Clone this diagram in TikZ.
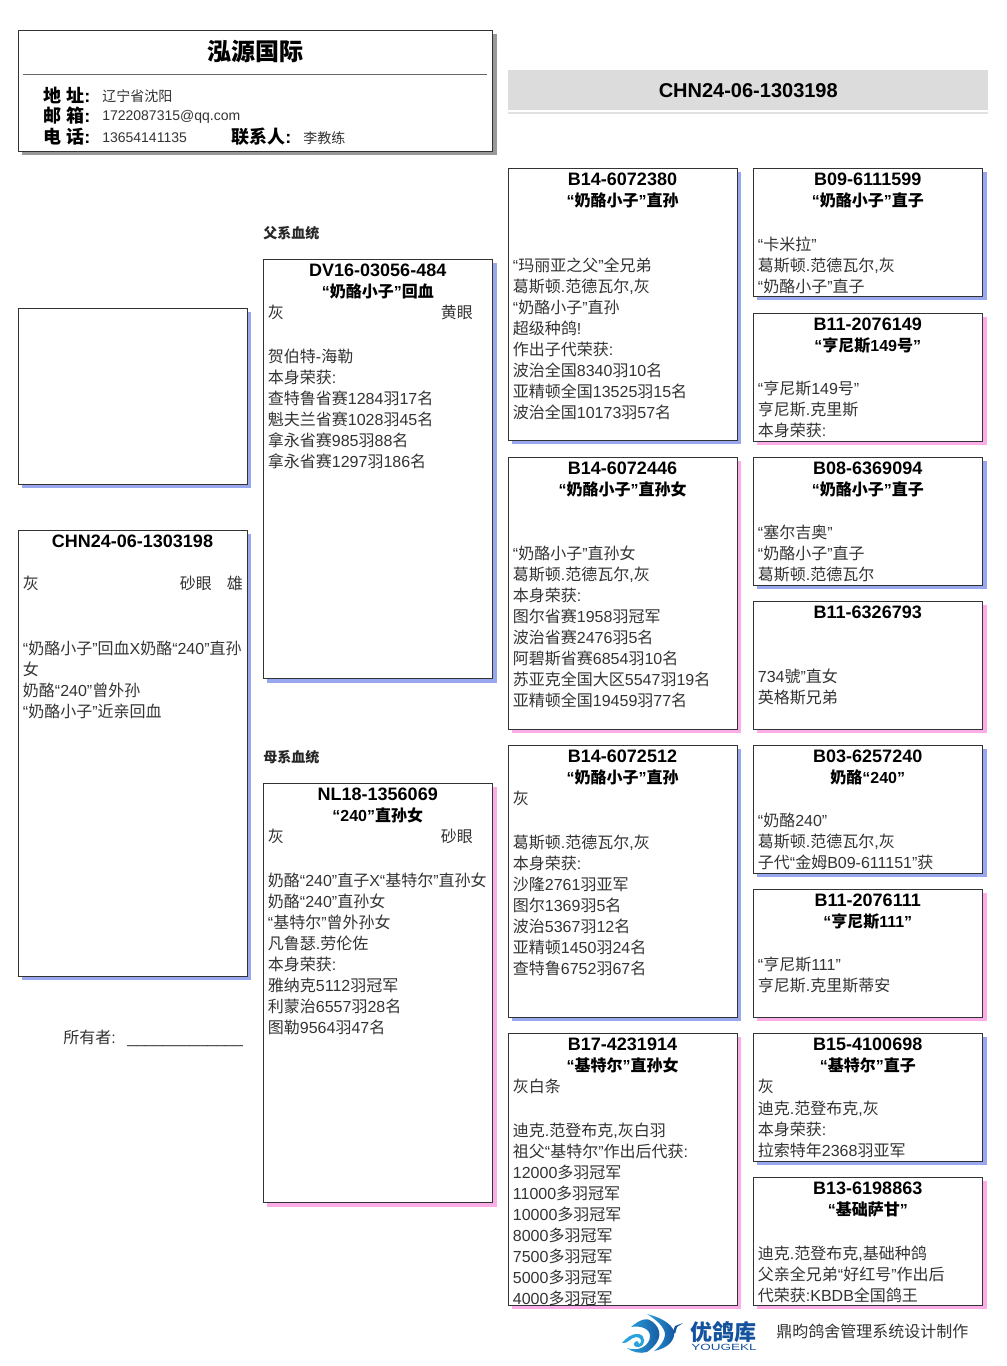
\documentclass[tikz,border=0pt]{standalone}
\usepackage{fontspec}
\usepackage{xcolor}
\usepackage{tikz}
\usetikzlibrary{shadows, calc}
\setmainfont{Liberation Sans}
\newfontfamily\cjkfam{Noto Sans CJK SC}
% han characters go to the cjk family, the rest stays in the main font
\XeTeXinterchartokenstate=1
\newXeTeXintercharclass\hanclass
\count255="4E00
\loop\ifnum\count255<"A000
  \XeTeXcharclass\count255=\hanclass
  \advance\count255 by 1
\repeat
\XeTeXinterchartoks 0 \hanclass={\cjkfam}
\XeTeXinterchartoks 4095 \hanclass={\cjkfam}
\XeTeXinterchartoks \hanclass 0={\rmfamily}
\XeTeXinterchartoks \hanclass 4095={\rmfamily}
\definecolor{sirefill}{HTML}{99A8EE}
\definecolor{damfill}{HTML}{FBADE8}
\definecolor{greyfill}{HTML}{999999}
\definecolor{bandfill}{HTML}{DCDCDC}
\definecolor{rimdraw}{HTML}{333333}
\definecolor{bodytext}{HTML}{333333}
\definecolor{logoblue}{HTML}{2BA3DC}
\definecolor{logodark}{HTML}{14529E}
\newcommand{\subline}[1]{{\fontsize{12}{15.75}\selectfont #1}}
\tikzset{
  blk/.style={rectangle, draw=rimdraw, fill=white, line width=0.7pt, inner sep=0pt, outer sep=0pt, anchor=north west},
  sire/.style={blk, general shadow={fill=sirefill, draw=none, shadow xshift=3pt, shadow yshift=-3pt}},
  dam/.style={blk, general shadow={fill=damfill, draw=none, shadow xshift=3pt, shadow yshift=-3pt}},
  card/.style={minimum width=229*0.75pt, minimum height=272*0.75pt},
  half/.style={minimum width=229.5*0.75pt, minimum height=128.3*0.75pt},
  parent/.style={minimum width=229.5*0.75pt, minimum height=419.5*0.75pt},
  idtxt/.style={anchor=north, align=center, text width=225*0.75pt, inner sep=0pt, yshift=-1.9pt, text=black, font=\fontsize{13.5}{15.75}\selectfont\bfseries, execute at begin node=\strut},
  bodytxt/.style={anchor=north west, align=left, text width=222*0.75pt, inner sep=0pt, xshift=3.5pt, yshift=-33.75pt, text=bodytext, font=\fontsize{12}{15.75}\selectfont, execute at begin node=\strut},
  sidetxt/.style={bodytxt, text width=34*0.75pt},
  lab/.style={anchor=west, inner sep=0pt, text=black, font=\fontsize{13.5}{16}\selectfont\bfseries},
  val/.style={anchor=west, inner sep=0pt, text=bodytext, font=\fontsize{10.5}{13}\selectfont},
  line/.style={anchor=west, inner sep=0pt, text=black!85, font=\fontsize{10.5}{13}\selectfont\bfseries},
  blade/.style={left color=logoblue, right color=logodark, draw=none},
}
\begin{document}
\begin{tikzpicture}[x=0.75pt, y=-0.75pt]
  \path[use as bounding box] (0,0) rectangle (1006,1366);

  % loft card
  \node[blk, general shadow={fill=greyfill, draw=none, shadow xshift=3pt, shadow yshift=-3pt}, minimum width=474.5*0.75pt, minimum height=121*0.75pt] (loft) at (18,30) {};
  \node[anchor=center, inner sep=0pt, font=\fontsize{18}{20}\selectfont\bfseries] (loftname) at (255.5,51) {泓源国际};
  \coordinate (ruleL) at (23,74.3);
  \coordinate (ruleR) at (487,74.3);
  \draw[black!60, line width=0.75pt] (ruleL) -- (ruleR);
  \node[lab] (addrlab) at (43,95) {地 址:};
  \node[val] (addr) at (102,96) {辽宁省沈阳};
  \node[lab] (maillab) at (43,116) {邮 箱:};
  \node[val] (mail) at (102,117) {1722087315@qq.com};
  \node[lab] (tellab) at (43,137) {电 话:};
  \node[val] (tel) at (102,138) {13654141135};
  \node[lab] (contactlab) at (231,137) {联系人:};
  \node[val] (contact) at (303,138) {李教练};

  % ring number band
  \node[anchor=north west, fill=bandfill, inner sep=0pt, minimum width=480*0.75pt, minimum height=40*0.75pt, font=\fontsize{15}{18}\selectfont\bfseries] (band) at (508,70) {CHN24-06-1303198};
  \node[anchor=north west, fill=bandfill!85, inner sep=0pt, minimum width=480*0.75pt, minimum height=2.2*0.75pt] (bandrule) at (508,111.8) {};

  % photo and bird
  \node[sire, minimum width=229*0.75pt, minimum height=176*0.75pt] (photo) at (18,308) {};
  \node[sire, minimum width=229*0.75pt, minimum height=446*0.75pt] (bird) at (18,530) {};
  \node[idtxt] (birdid) at (bird.north) {CHN24-06-1303198};
  \node[bodytxt] (birdbody) at (bird.north west) {灰\\~\\~\\[1.5pt]“奶酪小子”回血X奶酪“240”直孙\\女\\奶酪“240”曾外孙\\“奶酪小子”近亲回血};
  \node[sidetxt] (birdeye) at (175,530) {砂眼};
  \node[sidetxt] (birdsex) at (222,530) {雄};
  \node[anchor=west, inner sep=0pt, text=bodytext, font=\fontsize{12}{15}\selectfont] (owner) at (63,1038) {所有者:\hspace{8.75pt}\_\_\_\_\_\_\_\_\_\_\_\_\_};

  % parents
  \node[line] (sireline) at (263,233) {父系血统};
  \node[sire, parent] (s) at (263,259) {};
  \node[idtxt] (sid) at (s.north) {DV16-03056-484\\\subline{“奶酪小子”回血}};
  \node[bodytxt] (sbody) at (s.north west) {灰\\~\\[1.5pt]贺伯特-海勒\\本身荣获:\\查特鲁省赛1284羽17名\\魁夫兰省赛1028羽45名\\拿永省赛985羽88名\\拿永省赛1297羽186名};
  \node[sidetxt] (seye) at (436,259) {黄眼};

  \node[line] (damline) at (263,757) {母系血统};
  \node[dam, parent] (d) at (263,783) {};
  \node[idtxt] (did) at (d.north) {NL18-1356069\\\subline{“240”直孙女}};
  \node[bodytxt] (dbody) at (d.north west) {灰\\~\\[1.5pt]奶酪“240”直子X“基特尔”直孙女\\奶酪“240”直孙女\\“基特尔”曾外孙女\\凡鲁瑟.劳伦佐\\本身荣获:\\雅纳克5112羽冠军\\利蒙治6557羽28名\\图勒9564羽47名};
  \node[sidetxt] (deye) at (436,783) {砂眼};

  % grandparents
  \node[sire, card] (ss) at (508,168) {};
  \node[idtxt] (ssid) at (ss.north) {B14-6072380\\\subline{“奶酪小子”直孙}};
  \node[bodytxt] (ssbody) at (ss.north west) {~\\~\\[1.5pt]“玛丽亚之父”全兄弟\\葛斯顿.范德瓦尔,灰\\“奶酪小子”直孙\\超级种鸽!\\作出子代荣获:\\波治全国8340羽10名\\亚精顿全国13525羽15名\\波治全国10173羽57名};

  \node[dam, card] (sd) at (508,457) {};
  \node[idtxt] (sdid) at (sd.north) {B14-6072446\\\subline{“奶酪小子”直孙女}};
  \node[bodytxt] (sdbody) at (sd.north west) {~\\~\\[0.75pt]“奶酪小子”直孙女\\葛斯顿.范德瓦尔,灰\\本身荣获:\\图尔省赛1958羽冠军\\波治省赛2476羽5名\\阿碧斯省赛6854羽10名\\苏亚克全国大区5547羽19名\\亚精顿全国19459羽77名};

  \node[sire, card] (ds) at (508,745) {};
  \node[idtxt] (dsid) at (ds.north) {B14-6072512\\\subline{“奶酪小子”直孙}};
  \node[bodytxt] (dsbody) at (ds.north west) {灰\\~\\[1.5pt]葛斯顿.范德瓦尔,灰\\本身荣获:\\沙隆2761羽亚军\\图尔1369羽5名\\波治5367羽12名\\亚精顿1450羽24名\\查特鲁6752羽67名};

  \node[dam, card] (dd) at (508,1033) {};
  \node[idtxt] (ddid) at (dd.north) {B17-4231914\\\subline{“基特尔”直孙女}};
  \node[bodytxt] (ddbody) at (dd.north west) {灰白条\\~\\[1.5pt]迪克.范登布克,灰白羽\\祖父“基特尔”作出后代获:\\12000多羽冠军\\11000多羽冠军\\10000多羽冠军\\8000多羽冠军\\7500多羽冠军\\5000多羽冠军\\4000多羽冠军};

  % great grandparents
  \node[sire, half] (sss) at (753,168) {};
  \node[idtxt] (sssid) at (sss.north) {B09-6111599\\\subline{“奶酪小子”直子}};
  \node[bodytxt] (sssbody) at (sss.north west) {~\\[1.5pt]“卡米拉”\\葛斯顿.范德瓦尔,灰\\“奶酪小子”直子};

  \node[dam, half] (ssd) at (753,313) {};
  \node[idtxt] (ssdid) at (ssd.north) {B11-2076149\\\subline{“亨尼斯149号”}};
  \node[bodytxt] (ssdbody) at (ssd.north west) {~\\[0.75pt]“亨尼斯149号”\\亨尼斯.克里斯\\本身荣获:};

  \node[sire, half] (sds) at (753,457) {};
  \node[idtxt] (sdsid) at (sds.north) {B08-6369094\\\subline{“奶酪小子”直子}};
  \node[bodytxt] (sdsbody) at (sds.north west) {~\\[0.75pt]“塞尔吉奥”\\“奶酪小子”直子\\葛斯顿.范德瓦尔};

  \node[dam, half] (sdd) at (753,601) {};
  \node[idtxt] (sddid) at (sdd.north) {B11-6326793};
  \node[bodytxt] (sddbody) at (sdd.north west) {~\\[0.75pt]734號”直女\\英格斯兄弟};

  \node[sire, half] (dss) at (753,745) {};
  \node[idtxt] (dssid) at (dss.north) {B03-6257240\\\subline{奶酪“240”}};
  \node[bodytxt] (dssbody) at (dss.north west) {~\\[0.75pt]“奶酪240”\\葛斯顿.范德瓦尔,灰\\子代“金姆B09-611151”获};

  \node[dam, half] (dsd) at (753,889) {};
  \node[idtxt] (dsdid) at (dsd.north) {B11-2076111\\\subline{“亨尼斯111”}};
  \node[bodytxt] (dsdbody) at (dsd.north west) {~\\[0.75pt]“亨尼斯111”\\亨尼斯.克里斯蒂安};

  \node[sire, half] (dds) at (753,1033) {};
  \node[idtxt] (ddsid) at (dds.north) {B15-4100698\\\subline{“基特尔”直子}};
  \node[bodytxt] (ddsbody) at (dds.north west) {灰\\[0.75pt]迪克.范登布克,灰\\本身荣获:\\拉索特年2368羽亚军};

  \node[dam, half] (ddd) at (753,1177) {};
  \node[idtxt] (dddid) at (ddd.north) {B13-6198863\\\subline{“基础萨甘”}};
  \node[bodytxt] (dddbody) at (ddd.north west) {~\\[1.5pt]迪克.范登布克,基础种鸽\\父亲全兄弟“好红号”作出后\\代荣获:KBDB全国鸽王};

  % logo
  \shade[blade] (647,1314) .. controls (663,1318) and (676,1326) .. (674,1336) .. controls (672,1344) and (664,1349) .. (654,1351) .. controls (662,1345) and (667,1337) .. (664,1330) .. controls (662,1325) and (655,1319) .. (647,1314) -- cycle;
  \shade[blade] (631,1327) .. controls (640,1319) and (648,1317) .. (653,1322) .. controls (661,1329) and (664,1340) .. (647,1352) .. controls (640,1354) and (632,1352) .. (627,1348) .. controls (638,1352) and (650,1346) .. (650,1336) .. controls (650,1329) and (641,1325) .. (631,1327) -- cycle;
  \fill[logoblue] (622,1343) .. controls (626,1338) and (632,1333) .. (639,1334) .. controls (646,1336) and (646,1345) .. (639,1347) .. controls (635,1348) and (632,1344) .. (635,1342) .. controls (637,1340) and (640,1342) .. (639,1344) .. controls (643,1342) and (641,1337) .. (636,1337) .. controls (630,1338) and (628,1344) .. (622,1343) -- cycle;
  \fill[logodark] (673,1331) -- (675,1326) -- (683,1323) -- (677,1327) -- (675,1334) -- cycle;
  \node[anchor=west, inner sep=0pt, text=logodark, font=\fontsize{16.5}{18}\selectfont\bfseries] (logoname) at (690,1332.5) {优鸽库};
  \node[anchor=west, inner sep=0pt, text=logodark, font=\fontsize{6.75}{8}\selectfont] (logoen) at (691,1347) {\scalebox{1.5}[1]{YOUGEKL}};
  \node[anchor=west, inner sep=0pt, text=bodytext, font=\fontsize{12}{15}\selectfont] (maker) at (776,1331) {鼎昀鸽舍管理系统设计制作};
\end{tikzpicture}
\end{document}
